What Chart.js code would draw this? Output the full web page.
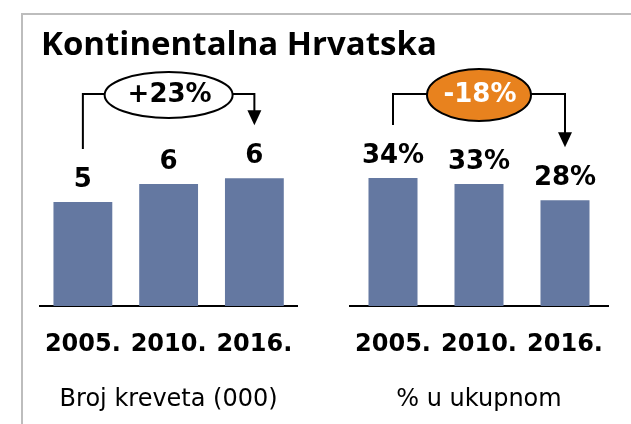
<!DOCTYPE html>
<html>
<head>
<meta charset="utf-8">
<script src="https://cdn.jsdelivr.net/npm/chart.js@4"></script>
<style>
  html, body { margin: 0; padding: 0; background: #fff; }
  body { width: 631px; height: 424px; position: relative; overflow: hidden; }
  #frame { position: absolute; left: 21px; top: 13px; right: -5px; bottom: -5px;
           border-top: 2px solid #bdbdbd; border-left: 2px solid #bdbdbd; }
  #title { position: absolute; left: 41px; top: 26px; font-family: "Open Sans", sans-serif;
           font-size: 33px; font-weight: 700; line-height: 1; color: #000;
           white-space: nowrap; z-index: 2; }
  .wrap { position: absolute; top: 0; height: 424px; }
  #left { left: 0; width: 320px; }
  #right { left: 320px; width: 311px; }
</style>
</head>
<body>
<div id="frame"></div>
<div id="title">Kontinentalna Hrvatska</div>
<div class="wrap" id="left"><canvas id="bedsChart"></canvas></div>
<div class="wrap" id="right"><canvas id="shareChart"></canvas></div>
<script>
const years = ['2005.', '2010.', '2016.'];
const beds = [4.9, 5.75, 6.03];          // broj kreveta, tisuće
const share = [34.2, 32.6, 28.3];        // % u ukupnom
const bedsChange = '+23%';
const shareChange = '-18%';

Chart.defaults.font.family = '"DejaVu Sans"';
Chart.defaults.color = '#000';

const barColor = '#6478a1';

// numbers on top of the bars
const valueLabels = {
  id: 'valueLabels',
  afterDatasetsDraw(chart, args, opts) {
    const ctx = chart.ctx;
    const meta = chart.getDatasetMeta(0);
    const data = chart.data.datasets[0].data;
    ctx.save();
    ctx.font = 'bold 26px "DejaVu Sans"';
    ctx.fillStyle = '#000';
    ctx.textAlign = 'center';
    ctx.textBaseline = 'alphabetic';
    meta.data.forEach((bar, i) => {
      ctx.fillText(Math.round(data[i]) + (opts.suffix || ''), bar.x, bar.y - 15);
    });
    ctx.restore();
  }
};

// bracket with the oval showing the change first -> last
const changeBracket = {
  id: 'changeBracket',
  afterDatasetsDraw(chart, args, opts) {
    const ctx = chart.ctx;
    const meta = chart.getDatasetMeta(0);
    const a = meta.data[0];
    const b = meta.data[meta.data.length - 1];
    const y = opts.y;
    const cx = (a.x + b.x) / 2;
    const tip = b.y - 53;
    ctx.save();
    ctx.strokeStyle = '#000';
    ctx.fillStyle = '#000';
    ctx.lineWidth = 2;
    ctx.beginPath();
    ctx.moveTo(a.x, a.y - 53);
    ctx.lineTo(a.x, y);
    ctx.lineTo(cx - opts.rx, y);
    ctx.moveTo(cx + opts.rx, y);
    ctx.lineTo(b.x, y);
    ctx.lineTo(b.x, tip - 14);
    ctx.stroke();
    ctx.beginPath();
    ctx.moveTo(b.x - 7, tip - 15);
    ctx.lineTo(b.x + 7, tip - 15);
    ctx.lineTo(b.x, tip);
    ctx.closePath();
    ctx.fill();

    ctx.beginPath();
    ctx.ellipse(cx, y + 1, opts.rx, opts.ry, 0, 0, Math.PI * 2);
    ctx.fillStyle = opts.fill;
    ctx.fill();
    ctx.stroke();

    ctx.font = 'bold 26px "DejaVu Sans"';
    ctx.fillStyle = opts.textColor;
    ctx.textAlign = 'center';
    ctx.textBaseline = 'middle';
    ctx.fillText(opts.text, cx + 1, y + 1);
    ctx.restore();
  }
};

function makeChart(id, values, yMax, pad, barPct, subtitle, extra) {
  return new Chart(document.getElementById(id), {
    type: 'bar',
    data: {
      labels: years,
      datasets: [{
        data: values,
        backgroundColor: barColor,
        borderWidth: 0,
        barPercentage: barPct,
        categoryPercentage: 1
      }]
    },
    options: {
      responsive: true,
      maintainAspectRatio: false,
      animation: false,
      layout: { padding: pad },
      plugins: {
        legend: { display: false },
        tooltip: { enabled: false },
        valueLabels: { suffix: extra.suffix },
        changeBracket: extra.bracket
      },
      scales: {
        x: {
          grid: { display: false, drawTicks: false },
          border: { display: true, color: '#000', width: 2 },
          ticks: { font: { size: 24, weight: 'bold' }, color: '#000', padding: 24 },
          title: {
            display: true,
            text: subtitle,
            font: { size: 24 },
            color: '#000',
            padding: { top: 2.4, bottom: 6 }
          }
        },
        y: { display: false, min: 0, max: yMax }
      }
    },
    plugins: [valueLabels, changeBracket]
  });
}

makeChart('bedsChart', beds, 10, { left: 40, right: 22, top: 94, bottom: 4 }, 0.686,
  'Broj kreveta (000)',
  { suffix: '', bracket: { y: 94, rx: 64, ry: 23, text: bedsChange, fill: '#fff', textColor: '#000' } });

makeChart('shareChart', share, 50, { left: 30, right: 23, top: 119, bottom: 4 }, 0.57,
  '% u ukupnom',
  { suffix: '%', bracket: { y: 94, rx: 52, ry: 26, text: shareChange, fill: '#e8821e', textColor: '#fff' } });
</script>
</body>
</html>
